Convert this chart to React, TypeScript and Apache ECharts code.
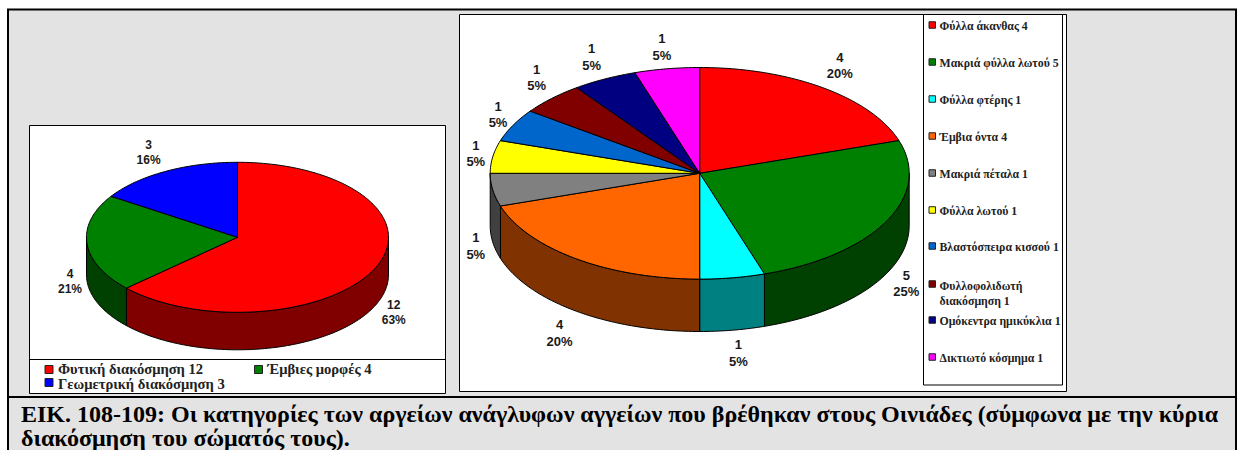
import React, { useEffect, useRef } from "react";
import * as echarts from "echarts";

const leftCategories = ["Φυτική διακόσμηση", "Έμβιες μορφές", "Γεωμετρική διακόσμηση"];
const leftValues = [12, 4, 3];
const leftColors = ["#ff0000", "#008000", "#0000ff"];
const leftSides = ["#800000", "#004000", "#000080"];

const rightCategories = [
  "Φύλλα άκανθας",
  "Μακριά φύλλα λωτού",
  "Φύλλα φτέρης",
  "Έμβια όντα",
  "Μακριά πέταλα",
  "Φύλλα λωτού",
  "Βλαστόσπειρα κισσού",
  "Φυλλοφολιδωτή\nδιακόσμηση",
  "Ομόκεντρα ημικύκλια",
  "Δικτιωτό κόσμημα",
];
const rightValues = [4, 5, 1, 4, 1, 1, 1, 1, 1, 1];
const rightColors = ["#ff0000", "#008000", "#00ffff", "#ff6600", "#808080", "#ffff00", "#0066cc", "#800000", "#000080", "#ff00ff"];
const rightSides = ["#800000", "#004000", "#008080", "#803300", "#404040", "#808000", "#003366", "#400000", "#000040", "#800080"];

const captionLines = [
  "ΕΙΚ. 108-109: Οι κατηγορίες των αργείων ανάγλυφων αγγείων που βρέθηκαν στους Οινιάδες (σύμφωνα με την κύρια",
  "διακόσμηση του σώματός τους).",
];

// label offsets from the slice's rim point (layout only)
const leftLabelOffsets = [[18, 45], [-17, 38], [-17, -19]];
const rightLabelOffsets = [[17, -22], [20, 62], [6, 75], [-17, 74], [-17, 56], [-17, -3], [-15, -11], [-15, -21], [-13, -22], [-5, -22]];

const LEGEND_FONT = '"Liberation Serif", serif';
const LABEL_FONT = '"Liberation Sans", Arial, sans-serif';

type Pie = {
  name: string;
  values: number[];
  colors: string[];
  sides: string[];
  cx: number;
  cy: number;
  rx: number;
  ry: number;
  depth: number;
  offsets: number[][];
  fontSize: number;
  lineHeight: number;
};

const leftPie: Pie = {
  name: "left", values: leftValues, colors: leftColors, sides: leftSides,
  cx: 237.5, cy: 237.3, rx: 151, ry: 75, depth: 37.5,
  offsets: leftLabelOffsets, fontSize: 12, lineHeight: 15.5,
};
const rightPie: Pie = {
  name: "right", values: rightValues, colors: rightColors, sides: rightSides,
  cx: 699.7, cy: 173.3, rx: 209.5, ry: 105.8, depth: 52.4,
  offsets: rightLabelOffsets, fontSize: 13, lineHeight: 16.5,
};

function pt(p: Pie, deg: number, dy = 0): number[] {
  const a = (deg * Math.PI) / 180;
  return [p.cx + p.rx * Math.sin(a), p.cy - p.ry * Math.cos(a) + dy];
}

function arc(p: Pie, from: number, to: number, dy = 0): number[][] {
  const out: number[][] = [];
  const n = Math.max(2, Math.ceil(Math.abs(to - from)));
  for (let i = 0; i <= n; i++) out.push(pt(p, from + ((to - from) * i) / n, dy));
  return out;
}

function angles(p: Pie, i: number): number[] {
  const total = p.values.reduce((a, b) => a + b, 0);
  const before = p.values.slice(0, i).reduce((a, b) => a + b, 0);
  return [(before / total) * 360, ((before + p.values[i]) / total) * 360];
}

function sideSeries(p: Pie) {
  return {
    type: "custom", name: p.name + "-side", coordinateSystem: "none", silent: true, z: 2,
    data: p.values.map((v) => [v]),
    renderItem: (params: any) => {
      const i = params.dataIndex;
      const [a, b] = angles(p, i);
      const from = Math.max(a, 90);
      const to = Math.min(b, 270);
      if (to <= from) return null;
      const points = [...arc(p, from, to), ...arc(p, to, from, p.depth)];
      return {
        type: "polygon", shape: { points },
        style: { fill: p.sides[i], stroke: "#000", lineWidth: 1 },
      };
    },
  };
}

function topSeries(p: Pie) {
  const total = p.values.reduce((a, b) => a + b, 0);
  return {
    type: "custom", name: p.name + "-top", coordinateSystem: "none", silent: true, z: 3,
    data: p.values.map((v) => [v]),
    renderItem: (params: any, api: any) => {
      const i = params.dataIndex;
      const [a, b] = angles(p, i);
      const v = api.value(0);
      const rim = pt(p, (a + b) / 2);
      const off = p.offsets[i];
      return {
        type: "group",
        children: [
          {
            type: "polygon",
            shape: { points: [[p.cx, p.cy], ...arc(p, a, b)] },
            style: { fill: p.colors[i], stroke: "#000", lineWidth: 1 },
          },
          {
            type: "text",
            style: {
              x: rim[0] + off[0], y: rim[1] + off[1],
              text: `${v}\n${Math.round((v / total) * 100)}%`,
              align: "center", verticalAlign: "middle",
              font: `bold ${p.fontSize}px ${LABEL_FONT}`,
              lineHeight: p.lineHeight, fill: "#1a1a1a",
            },
          },
        ],
      };
    },
  };
}

function box(x: number, y: number, w: number, h: number, lw = 1, fill = "#fff") {
  return { type: "rect", silent: true, shape: { x, y, width: w, height: h }, style: { fill, stroke: "#000", lineWidth: lw } };
}

function legendEntry(color: string, text: string, sx: number, sy: number, tx: number, ty: number, size: number, sw: number, lh: number) {
  return [
    { type: "rect", silent: true, z: 5, shape: { x: sx, y: sy - sw / 2, width: sw, height: sw }, style: { fill: color, stroke: "#222", lineWidth: 1 } },
    {
      type: "text", silent: true, z: 5,
      style: { x: tx, y: ty, text, font: `bold ${size}px ${LEGEND_FONT}`, fill: "#222", verticalAlign: "middle", lineHeight: lh },
    },
  ];
}

const rightLegendSwatchY = [25, 62, 99, 136, 173, 210, 246, 284, 320, 357];
const rightLegendTextY = [26, 63, 100, 137, 174, 211, 247, 293, 321, 358];
const leftLegendPos = [[45, 369.5, 58, 368.8], [254.5, 369.5, 267.5, 368.8], [45, 382.5, 58, 383.6]];

export default function App() {
  const ref = useRef<HTMLDivElement>(null);
  useEffect(() => {
    document.body.style.margin = "0";
    const chart = echarts.init(ref.current!, null, { renderer: "svg" });
    const graphic: any[] = [
      // outer frame
      { type: "rect", silent: true, z: 0, shape: { x: 8, y: 9.5, width: 1228, height: 450 }, style: { fill: "#e3e3e3", stroke: "#000", lineWidth: 2 } },
      { type: "line", silent: true, z: 0, shape: { x1: 8, y1: 397, x2: 1236, y2: 397 }, style: { stroke: "#000", lineWidth: 2 } },
      { ...box(29.5, 125.5, 416, 268), z: 1 },
      { type: "line", silent: true, z: 1, shape: { x1: 29.5, y1: 359.5, x2: 445.5, y2: 359.5 }, style: { stroke: "#000", lineWidth: 1 } },
      { ...box(459.5, 14.5, 607, 377), z: 1 },
      { ...box(923.5, 14.5, 139, 370.5), z: 1 },
      ...leftCategories.flatMap((c, i) => {
        const q = leftLegendPos[i];
        return legendEntry(leftColors[i], `${c} ${leftValues[i]}`, q[0], q[1], q[2], q[3], 14.6, 8, 14);
      }),
      ...rightCategories.flatMap((c, i) =>
        legendEntry(rightColors[i], `${c} ${rightValues[i]}`, 929, rightLegendSwatchY[i], 939.5, rightLegendTextY[i], 11.8, 6.5, 15)
      ),
      ...captionLines.map((t, i) => ({
        type: "text", silent: true, z: 5,
        style: { x: 21, y: 414 + i * 24, text: t, font: 'bold 24px "Liberation Serif", serif', fill: "#000", verticalAlign: "middle" },
      })),
    ];
    chart.setOption({
      animation: false,
      backgroundColor: "#ffffff",
      graphic,
      series: [sideSeries(leftPie), topSeries(leftPie), sideSeries(rightPie), topSeries(rightPie)],
    });
    return () => chart.dispose();
  }, []);
  return <div ref={ref} style={{ position: "absolute", left: 0, top: 0, width: 1237, height: 450 }} />;
}
